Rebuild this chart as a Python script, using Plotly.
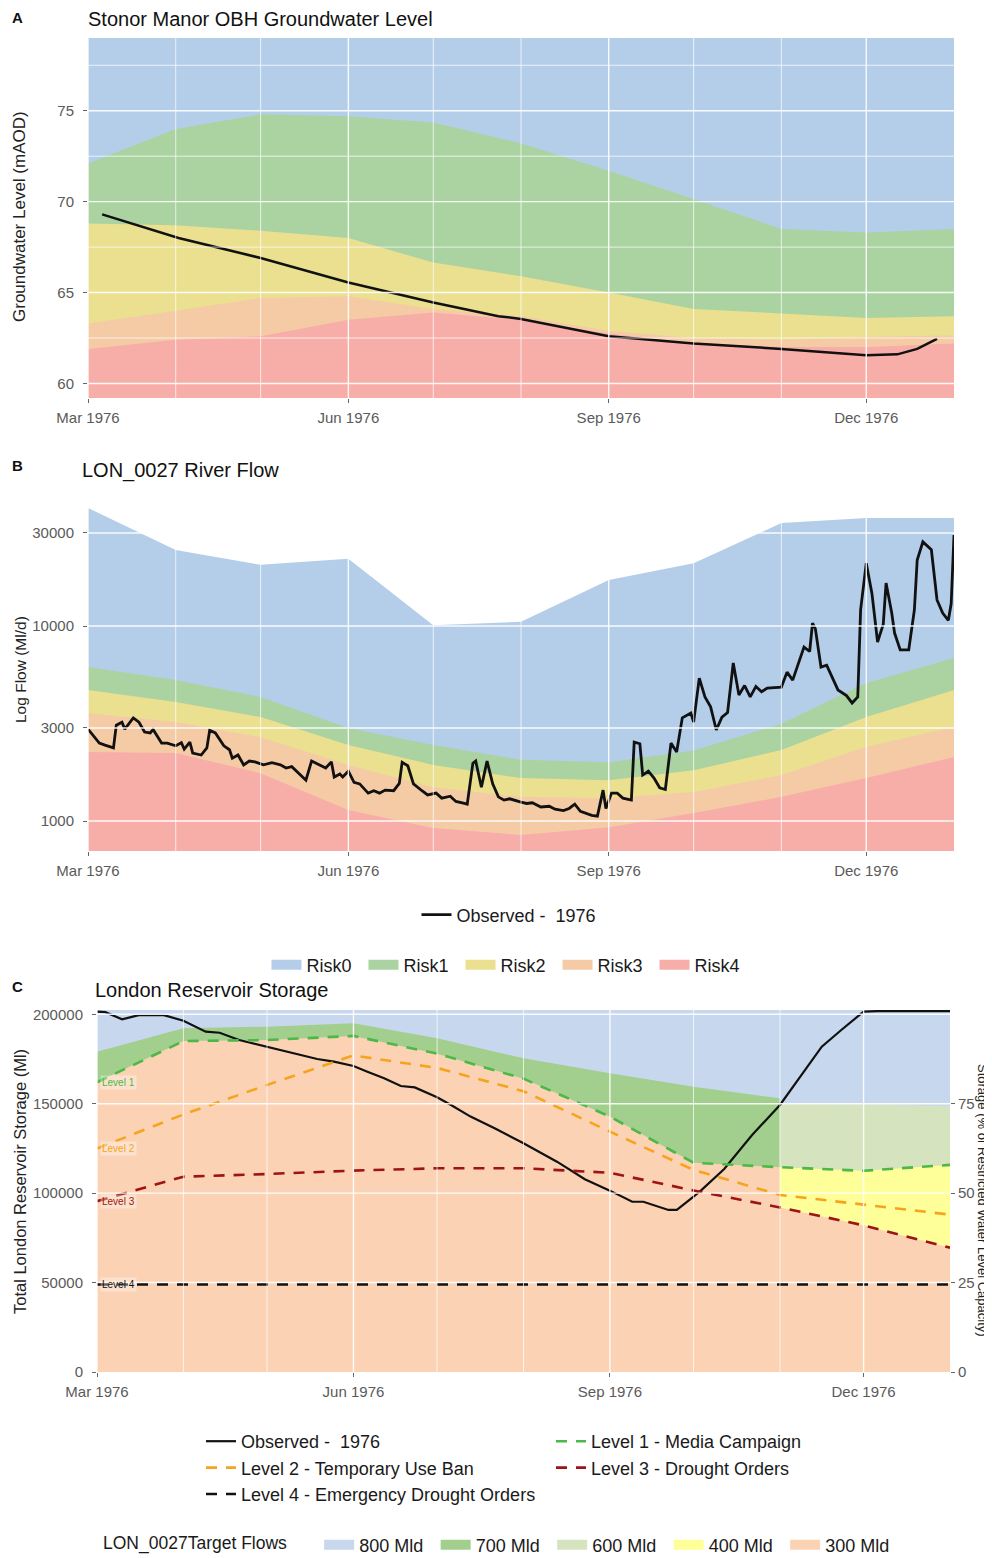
import plotly.graph_objects as go

# page body has an 8px default margin; the figure is sized to fill the rest of the 992x1558 window
OFF = 8
W, H = 992 - OFF, 1558 - OFF
FONT = "Liberation Sans, Arial, sans-serif"

# ---------------- data ----------------
MONTHS = ["1976-03-01", "1976-04-01", "1976-05-01", "1976-06-01", "1976-07-01", "1976-08-01",
          "1976-09-01", "1976-10-01", "1976-11-01", "1976-12-01", "1977-01-01"]

RISK_NAMES = ["Risk0", "Risk1", "Risk2", "Risk3", "Risk4"]

# Panel A - groundwater risk band upper boundaries (mAOD)
A_RISK1_TOP = [72.1, 74.0, 74.8, 74.7, 74.35, 73.2, 71.7, 70.15, 68.5, 68.3, 68.5]
A_RISK2_TOP = [68.8, 68.7, 68.4, 68.0, 66.65, 65.9, 65.0, 64.1, 63.85, 63.6, 63.7]
A_RISK3_TOP = [63.3, 64.0, 64.7, 64.8, 64.1, 63.7, 62.9, 62.5, 62.4, 62.55, 62.65]
A_RISK4_TOP = [61.9, 62.4, 62.6, 63.5, 63.9, 63.5, 62.75, 62.2, 62.0, 62.0, 62.2]

A_OBS_DATES = ["1976-03-06", "1976-04-02", "1976-05-01", "1976-06-01", "1976-07-01", "1976-07-24",
               "1976-08-01", "1976-09-01", "1976-10-01", "1976-11-01", "1976-12-01", "1976-12-12",
               "1976-12-19", "1976-12-26"]
A_OBS_LEVEL = [69.3, 68.0, 66.9, 65.55, 64.45, 63.7, 63.55, 62.6, 62.2, 61.9, 61.55, 61.6, 61.9, 62.45]

# Panel B - river flow risk band upper boundaries (Ml/d)
B_RISK0_TOP = [40300, 24500, 20600, 22100, 10100, 10500, 17200, 21000, 33700, 35800, 35800]
B_RISK1_TOP = [6160, 5280, 4330, 3000, 2450, 2060, 2000, 2300, 3150, 5100, 6850]
B_RISK2_TOP = [4700, 4080, 3410, 2450, 1940, 1660, 1620, 1820, 2310, 3410, 4700]
B_RISK3_TOP = [3580, 3220, 2690, 1940, 1490, 1330, 1310, 1410, 1720, 2400, 3030]
B_RISK4_TOP = [2260, 2230, 1760, 1140, 920, 848, 930, 1100, 1330, 1660, 2130]

B_OBS_DATES = [
    "1976-03-01", "1976-03-05", "1976-03-07", "1976-03-10", "1976-03-11", "1976-03-13", "1976-03-14",
    "1976-03-17", "1976-03-19", "1976-03-21", "1976-03-23", "1976-03-24", "1976-03-27", "1976-03-29",
    "1976-04-01", "1976-04-03", "1976-04-04", "1976-04-06", "1976-04-07", "1976-04-10", "1976-04-12",
    "1976-04-13", "1976-04-15", "1976-04-18", "1976-04-20", "1976-04-21", "1976-04-23", "1976-04-25",
    "1976-04-27", "1976-04-29", "1976-05-02", "1976-05-05", "1976-05-08", "1976-05-10", "1976-05-12",
    "1976-05-14", "1976-05-17", "1976-05-19", "1976-05-22", "1976-05-24", "1976-05-26", "1976-05-27",
    "1976-05-29", "1976-05-30", "1976-06-01", "1976-06-03", "1976-06-05", "1976-06-08", "1976-06-10",
    "1976-06-12", "1976-06-14", "1976-06-17", "1976-06-19", "1976-06-20", "1976-06-22", "1976-06-24",
    "1976-06-27", "1976-06-29", "1976-07-02", "1976-07-04", "1976-07-07", "1976-07-09", "1976-07-12",
    "1976-07-13", "1976-07-15", "1976-07-16", "1976-07-18", "1976-07-20", "1976-07-22", "1976-07-24",
    "1976-07-26", "1976-07-28", "1976-08-01", "1976-08-03", "1976-08-05", "1976-08-08", "1976-08-11",
    "1976-08-13", "1976-08-16", "1976-08-18", "1976-08-20", "1976-08-22", "1976-08-26", "1976-08-28",
    "1976-08-30", "1976-08-31", "1976-09-02", "1976-09-04", "1976-09-06", "1976-09-09", "1976-09-10",
    "1976-09-12", "1976-09-13", "1976-09-15", "1976-09-17", "1976-09-19", "1976-09-21", "1976-09-23",
    "1976-09-25", "1976-09-27", "1976-09-30", "1976-10-01", "1976-10-03", "1976-10-05", "1976-10-07",
    "1976-10-09", "1976-10-11", "1976-10-13", "1976-10-15", "1976-10-17", "1976-10-19", "1976-10-21",
    "1976-10-23", "1976-10-25", "1976-10-27", "1976-11-01", "1976-11-03", "1976-11-05", "1976-11-09",
    "1976-11-11", "1976-11-12", "1976-11-13", "1976-11-15", "1976-11-17", "1976-11-21", "1976-11-24",
    "1976-11-26", "1976-11-28", "1976-11-29", "1976-12-01", "1976-12-03", "1976-12-05", "1976-12-07",
    "1976-12-08", "1976-12-10", "1976-12-11", "1976-12-13", "1976-12-16", "1976-12-18", "1976-12-19",
    "1976-12-21", "1976-12-24", "1976-12-26", "1976-12-28", "1976-12-30", "1976-12-31", "1977-01-01"]
B_OBS_FLOW = [
    2960, 2510, 2450, 2370, 3100, 3210, 2960,
    3380, 3210, 2860, 2830, 2950, 2510, 2510,
    2430, 2520, 2340, 2540, 2230, 2180, 2370,
    2920, 2830, 2430, 2320, 2100, 2180, 1940,
    2030, 2010, 1940, 1990, 1940, 1870, 1900,
    1780, 1620, 2030, 1940, 1870, 2010, 1680,
    1740, 1680, 1800, 1580, 1550, 1390, 1430,
    1390, 1440, 1430, 1560, 2000, 1920, 1550,
    1430, 1360, 1390, 1310, 1340, 1260, 1230,
    1220, 1980, 2030, 1490, 2030, 1550, 1330,
    1280, 1300, 1250, 1230, 1240, 1180, 1190,
    1150, 1130, 1160, 1220, 1120, 1070, 1060,
    1440, 1160, 1390, 1390, 1310, 1280, 2540,
    2490, 1720, 1800, 1660, 1480, 1450, 2510,
    2260, 3380, 3580, 3220, 5400, 4330, 3850,
    2930, 3410, 3600, 6460, 4430, 4950, 4330,
    4900, 4600, 4800, 4860, 5800, 5280, 7800,
    7400, 10350, 9700, 6160, 6300, 4700, 4400,
    4030, 4330, 12100, 21000, 14700, 8280, 10200,
    16600, 11660, 9200, 7540, 7540, 12100, 21800,
    27000, 24600, 13600, 11660, 10700, 13000, 29300]

# Panel C - reservoir storage (Ml)
C_LEVEL1 = [162000, 185000, 185600, 187900, 178000, 164000, 142800, 117000, 114500, 112500, 115800]
C_LEVEL2 = [125000, 144000, 160500, 177000, 170000, 157000, 134400, 113000, 99000, 93500, 88000]
C_LEVEL3 = [95500, 109200, 110700, 112600, 113900, 113900, 111400, 101500, 92000, 82000, 69500]
C_LEVEL4 = [49000, 49000, 49000, 49000, 49000, 49000, 49000, 49000, 49000, 49000, 49000]
C_700_TOP = [179100, 192200, 193100, 195000, 186600, 175400, 167000, 159500, 153000]  # Mar..Nov
C_600_TOP = [150000, 149500, 148700]  # Nov..Jan
C_STORAGE_MAX = 202400
C_CAPACITY = 200000  # 100 % of restricted water level capacity

C_OBS_DATES = ["1976-03-01", "1976-03-04", "1976-03-10", "1976-03-16", "1976-03-25", "1976-04-01",
               "1976-04-09", "1976-04-14", "1976-04-21", "1976-05-01", "1976-05-09", "1976-05-19",
               "1976-05-25", "1976-06-01", "1976-06-06", "1976-06-12", "1976-06-18", "1976-06-23",
               "1976-07-01", "1976-07-06", "1976-07-13", "1976-07-22", "1976-08-01", "1976-08-13",
               "1976-08-23", "1976-09-01", "1976-09-09", "1976-09-13", "1976-09-22", "1976-09-25",
               "1976-10-01", "1976-10-04", "1976-10-12", "1976-10-22", "1976-11-01", "1976-11-09",
               "1976-11-16", "1976-11-23", "1976-11-30", "1976-12-01", "1976-12-06", "1977-01-01"]
C_OBS_STORAGE = [201500, 201200, 197200, 199500, 199500, 196400,
                 190300, 189700, 185600, 181900, 179100, 175000,
                 173500, 171100, 167900, 164200, 159900, 159100,
                 153600, 149300, 142800, 136000, 127900, 117600,
                 107800, 101400, 95200, 95200, 90600, 90600,
                 98000, 102000, 113500, 132500, 149300, 167000,
                 181900, 191200, 200600, 201500, 201800, 201800]

LEVEL_NAMES = ["Level 1 - Media Campaign", "Level 2 - Temporary Use Ban",
               "Level 3 - Drought Orders", "Level 4 - Emergency Drought Orders"]
LEVEL_TAGS = ["Level 1", "Level 2", "Level 3", "Level 4"]
FLOW_NAMES = ["800 Mld", "700 Mld", "600 Mld", "400 Mld", "300 Mld"]

# ---------------- styles ----------------
RISK_COLORS = ["#B4CEE9", "#AAD3A1", "#EBDF90", "#F5CBA6", "#F8AEA8"]
FLOW_COLORS = ["#C6D7EE", "#A2CF8D", "#D5E3BF", "#FFFF99", "#FBD3B4"]
LEVEL_COLORS = ["#4CB847", "#F5A41E", "#9E1414", "#111111"]
TICK_COLOR = "#5a5a5a"

A_RANGE = [59.2, 79.0]
B_RANGE = [2.8462, 4.6205]
C_RANGE = [0, C_STORAGE_MAX]


def XP(px):
    """window pixel x -> paper fraction"""
    return (px - OFF) / W


def YP(py):
    """window pixel y -> paper fraction"""
    return 1 - (py - OFF) / H


def band(x, upper, lower, color, xa, ya):
    x = list(x)
    return go.Scatter(x=x + x[::-1], y=list(upper) + list(lower)[::-1], fill="toself",
                      fillcolor=color, mode="none", hoverinfo="skip", showlegend=False,
                      xaxis=xa, yaxis=ya)


fig = go.Figure()

# ---- Panel A bands (painter's order: top band first, each from the floor) ----
a_floor = [A_RANGE[0]] * len(MONTHS)
a_tops = [[A_RANGE[1]] * len(MONTHS), A_RISK1_TOP, A_RISK2_TOP, A_RISK3_TOP, A_RISK4_TOP]
for top, col in zip(a_tops, RISK_COLORS):
    fig.add_trace(band(MONTHS, top, a_floor, col, "x", "y"))

# ---- Panel B bands ----
b_floor = [10 ** B_RANGE[0]] * len(MONTHS)
b_tops = [B_RISK0_TOP, B_RISK1_TOP, B_RISK2_TOP, B_RISK3_TOP, B_RISK4_TOP]
for top, col in zip(b_tops, RISK_COLORS):
    fig.add_trace(band(MONTHS, top, b_floor, col, "x2", "y2"))

# ---- Panel C bands ----
n_before = 9  # Mar .. Nov
c_zero = [0] * len(MONTHS)
fig.add_trace(band(MONTHS, [C_STORAGE_MAX] * len(MONTHS), c_zero, FLOW_COLORS[0], "x3", "y3"))
fig.add_trace(band(MONTHS[:n_before], C_700_TOP, c_zero[:n_before], FLOW_COLORS[1], "x3", "y3"))
fig.add_trace(band(MONTHS[n_before - 1:], C_600_TOP, c_zero[n_before - 1:], FLOW_COLORS[2], "x3", "y3"))
fig.add_trace(band(MONTHS[:n_before], C_LEVEL1[:n_before], c_zero[:n_before], FLOW_COLORS[4], "x3", "y3"))
fig.add_trace(band(MONTHS[n_before - 1:], C_LEVEL1[n_before - 1:], c_zero[n_before - 1:], FLOW_COLORS[3], "x3", "y3"))
fig.add_trace(band(MONTHS[n_before - 1:], C_LEVEL3[n_before - 1:], c_zero[n_before - 1:], FLOW_COLORS[4], "x3", "y3"))

# ---- Observed lines ----
fig.add_trace(go.Scatter(x=A_OBS_DATES, y=A_OBS_LEVEL, mode="lines", line=dict(color="#111111", width=2.5),
                         showlegend=False, name="Observed -  1976", xaxis="x", yaxis="y"))
fig.add_trace(go.Scatter(x=B_OBS_DATES, y=B_OBS_FLOW, mode="lines", line=dict(color="#111111", width=2.8),
                         name="Observed -  1976", legend="legend", xaxis="x2", yaxis="y2"))

# ---- Panel C lines ----
fig.add_trace(go.Scatter(x=C_OBS_DATES, y=C_OBS_STORAGE, mode="lines", line=dict(color="#111111", width=2.2),
                         name="Observed -  1976", legend="legend3", legendrank=1, xaxis="x3", yaxis="y3"))
for i, (vals, name, col) in enumerate(zip([C_LEVEL1, C_LEVEL2, C_LEVEL3, C_LEVEL4], LEVEL_NAMES, LEVEL_COLORS)):
    fig.add_trace(go.Scatter(x=MONTHS, y=vals, mode="lines",
                             line=dict(color=col, width=2.6, dash="11px,9px"),
                             name=name, legend="legend3", legendrank=i + 2, xaxis="x3", yaxis="y3"))
# right-hand percent axis carrier
fig.add_trace(go.Scatter(x=[MONTHS[0], MONTHS[-1]], y=[C_OBS_STORAGE[0] / C_CAPACITY * 100] * 2,
                         mode="lines", line=dict(width=0), showlegend=False, hoverinfo="skip",
                         xaxis="x3", yaxis="y4"))

# ---- legend entries for filled bands ----
for name, col in zip(RISK_NAMES, RISK_COLORS):
    fig.add_trace(go.Scatter(x=[None], y=[None], mode="lines", line=dict(color=col, width=12),
                             name=name, legend="legend2", xaxis="x2", yaxis="y2"))
for name, col in zip(FLOW_NAMES, FLOW_COLORS):
    fig.add_trace(go.Scatter(x=[None], y=[None], mode="lines", line=dict(color=col, width=12),
                             name=name, legend="legend4", xaxis="x3", yaxis="y3"))

# ---------------- axes ----------------
tickfont = dict(family=FONT, size=15, color=TICK_COLOR)
xcommon = dict(type="date", range=[MONTHS[0], MONTHS[-1]], tickformat="%b %Y", dtick="M3",
               tick0=MONTHS[0], ticks="outside", ticklen=4, tickcolor="#666", tickfont=tickfont,
               showgrid=False, zeroline=False, showline=False, ticklabelstandoff=2, fixedrange=True,
               automargin=False)
ycommon = dict(ticks="outside", ticklen=4, tickcolor="#666", tickfont=tickfont, showgrid=False,
               zeroline=False, showline=False, fixedrange=True, automargin=False)

A_DOM_X = [XP(88), XP(954)]
C_DOM_X = [XP(97), XP(950)]
fig.update_layout(
    xaxis=dict(domain=A_DOM_X, anchor="y", **xcommon),
    yaxis=dict(domain=[YP(398), YP(38)], anchor="x", range=A_RANGE, tickvals=[60, 65, 70, 75],
               ticklabelstandoff=6, **ycommon),
    xaxis2=dict(domain=A_DOM_X, anchor="y2", **xcommon),
    yaxis2=dict(domain=[YP(851), YP(505)], anchor="x2", type="log", range=B_RANGE,
                tickvals=[1000, 3000, 10000, 30000], ticktext=["1000", "3000", "10000", "30000"],
                ticklabelstandoff=6, **ycommon),
    xaxis3=dict(domain=C_DOM_X, anchor="y3", **xcommon),
    yaxis3=dict(domain=[YP(1372), YP(1010)], anchor="x3", range=C_RANGE,
                tickvals=[0, 50000, 100000, 150000, 200000], ticktext=["0", "50000", "100000", "150000", "200000"],
                ticklabelstandoff=6, **ycommon),
    yaxis4=dict(overlaying="y3", side="right", anchor="x3", range=[0, C_STORAGE_MAX / C_CAPACITY * 100],
                tickvals=[0, 25, 50, 75], ticklabelstandoff=0, **ycommon),
)

# ---------------- grid lines drawn over the bands ----------------
shapes = []
GRID_MAJOR, GRID_MINOR = 1.4, 0.8


def vgrid(xref, yref):
    for m in MONTHS[:-1]:
        w = GRID_MAJOR if m[5:7] in ("03", "06", "09", "12") else GRID_MINOR
        shapes.append(dict(type="line", xref=xref, yref=yref + " domain", x0=m, x1=m, y0=0, y1=1,
                           line=dict(color="rgba(255,255,255,0.9)", width=w), layer="above"))


def hgrid(xref, yref, vals, w):
    for v in vals:
        shapes.append(dict(type="line", xref=xref + " domain", yref=yref, x0=0, x1=1, y0=v, y1=v,
                           line=dict(color="rgba(255,255,255,0.9)", width=w), layer="above"))


vgrid("x", "y")
hgrid("x", "y", [60, 65, 70, 75], GRID_MAJOR)
hgrid("x", "y", [62.5, 67.5, 72.5, 77.5], GRID_MINOR)
vgrid("x2", "y2")
hgrid("x2", "y2", [1000, 3000, 10000, 30000], GRID_MAJOR)
vgrid("x3", "y3")
hgrid("x3", "y3", [50000, 100000, 150000, 200000], GRID_MAJOR)
fig.update_layout(shapes=shapes)

# ---------------- annotations ----------------
ann = []


def text(x, y, s, size, color="#111111", bold=False, xanchor="left", angle=0):
    ann.append(dict(x=XP(x), y=YP(y), xref="paper", yref="paper", text=("<b>%s</b>" % s) if bold else s,
                    showarrow=False, xanchor=xanchor, yanchor="middle", textangle=angle,
                    font=dict(family=FONT, size=size, color=color)))


text(10, 17, "A", 15, bold=True)
text(86, 19, "Stonor Manor OBH Groundwater Level", 20)
text(10, 466, "B", 15, bold=True)
text(80, 470, "LON_0027 River Flow", 20)
text(10, 986, "C", 15, bold=True)
text(93, 990, "London Reservoir Storage", 20)

text(20, 217, "Groundwater Level (mAOD)", 17, color="#222", xanchor="center", angle=-90)
text(20, 670, "Log Flow (Ml/d)", 15.5, color="#222", xanchor="center", angle=-90)
text(20, 1182, "Total London Reservoir Storage (Ml)", 16.5, color="#222", xanchor="center", angle=-90)
text(983, 1200, "Storage (% of Restricted Water Level Capacity)", 13, color="#222", xanchor="center", angle=90)

for tag, vals, col in zip(LEVEL_TAGS, [C_LEVEL1, C_LEVEL2, C_LEVEL3, C_LEVEL4], LEVEL_COLORS):
    ann.append(dict(x=MONTHS[0], y=vals[0], xref="x3", yref="y3", text=tag, showarrow=False,
                    xanchor="left", yanchor="middle", xshift=3, bgcolor="rgba(255,255,255,0.35)",
                    borderpad=1, font=dict(family=FONT, size=10, color=col)))
fig.update_layout(annotations=ann)

# ---------------- legends ----------------
lfont = dict(family=FONT, size=18, color="#1a1a1a")
fig.update_layout(
    showlegend=True,
    legend=dict(orientation="h", x=XP(509), xanchor="center", y=YP(915), yanchor="middle",
                font=lfont, bgcolor="rgba(0,0,0,0)"),
    legend2=dict(orientation="h", x=XP(509), xanchor="center", y=YP(965), yanchor="middle",
                 font=lfont, bgcolor="rgba(0,0,0,0)", entrywidth=52, entrywidthmode="pixels",
                 traceorder="normal"),
    legend3=dict(orientation="h", x=XP(201), xanchor="left", y=YP(1468), yanchor="middle",
                 font=lfont, bgcolor="rgba(0,0,0,0)", entrywidth=305, entrywidthmode="pixels",
                 traceorder="normal"),
    legend4=dict(orientation="h", x=XP(101), xanchor="left", y=YP(1545), yanchor="middle",
                 font=lfont, bgcolor="rgba(0,0,0,0)", entrywidth=71.5, entrywidthmode="pixels",
                 title=dict(text="LON_0027Target Flows\u00a0\u00a0\u00a0\u00a0\u00a0", side="left",
                            font=dict(family=FONT, size=17.5, color="#1a1a1a")),
                 traceorder="normal"),
)

fig.update_layout(width=W, height=H, autosize=False,
                  margin=dict(l=0, r=0, t=0, b=0, pad=0, autoexpand=False),
                  paper_bgcolor="white", plot_bgcolor="white", font=dict(family=FONT),
                  hovermode=False)

fig.write_html("out.html")
